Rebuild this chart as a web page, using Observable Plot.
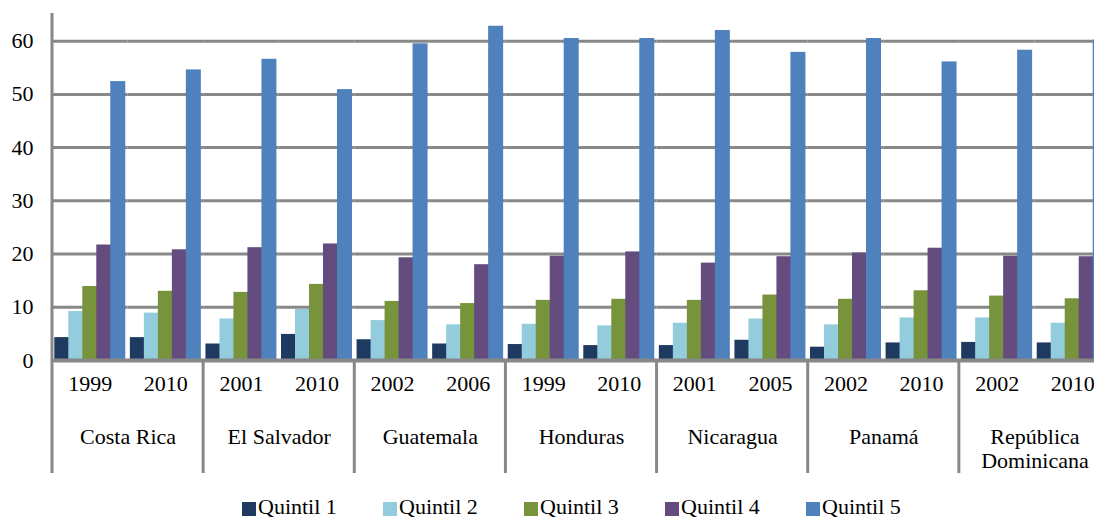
<!DOCTYPE html>
<html><head><meta charset="utf-8">
<script src="https://cdn.jsdelivr.net/npm/d3@7"></script>
<script src="https://cdn.jsdelivr.net/npm/@observablehq/plot@0.6"></script>
<style>
html,body{margin:0;padding:0;background:#fff;overflow:hidden;width:1094px;height:521px}
#chart{position:relative;width:1094px;height:521px;overflow:hidden}
#chart svg{overflow:hidden}
#chart svg text{font-family:"Liberation Serif"}
.legend{position:absolute;left:242px;top:494px;display:flex;font-family:"Liberation Serif";font-size:22px;line-height:26px;color:#000}
.legend .item{width:141px;display:flex;align-items:center;white-space:nowrap}
.legend .sw{width:14px;height:14px;margin-right:2px;position:relative;top:2px}
</style></head><body><div id="chart"></div>
<script>
// ---- data ----
const countries = ["Costa Rica", "El Salvador", "Guatemala", "Honduras", "Nicaragua", "Panamá", "República\nDominicana"];
const yearsByCountry = [["1999", "2010"], ["2001", "2010"], ["2002", "2006"], ["1999", "2010"], ["2001", "2005"], ["2002", "2010"], ["2002", "2010"]];
const quintiles = ["Quintil 1", "Quintil 2", "Quintil 3", "Quintil 4", "Quintil 5"];
const q1 = [4.3, 4.3, 3.1, 4.9, 3.9, 3.1, 3.0, 2.8, 2.8, 3.8, 2.5, 3.3, 3.4, 3.3];
const q2 = [9.2, 8.9, 7.8, 9.6, 7.5, 6.7, 6.8, 6.5, 7.0, 7.8, 6.7, 8.0, 8.0, 7.0];
const q3 = [13.9, 13.0, 12.8, 14.3, 11.1, 10.7, 11.3, 11.5, 11.3, 12.3, 11.5, 13.1, 12.1, 11.6];
const q4 = [21.7, 20.8, 21.2, 21.9, 19.3, 18.0, 19.6, 20.4, 18.3, 19.5, 20.2, 21.1, 19.6, 19.5];
const q5 = [52.4, 54.6, 56.6, 50.9, 59.5, 62.8, 60.5, 60.5, 62.0, 57.9, 60.5, 56.1, 58.3, 60.2];
const yTicks = [0, 10, 20, 30, 40, 50, 60];
const colors = ["#1f3a60", "#93cddd", "#77933c", "#644d7e", "#4f81bd"];

// ---- build tables ----
const groups = [];
countries.forEach((c, ci) => yearsByCountry[ci].forEach((yr, yi) =>
  groups.push({key: ci + "-" + yi, country: c, year: yr, first: yi === 0, ci})));
const series = [q1, q2, q3, q4, q5];
const data = [];
groups.forEach((g, gi) => quintiles.forEach((q, qi) => data.push({key: g.key, q, v: series[qi][gi]})));

const font = "Liberation Serif";
const gray = "#888888";

const plot = Plot.plot({
  width: 1094, height: 490,
  marginLeft: 52, marginRight: -16, marginTop: 13, marginBottom: 130,
  style: {fontFamily: font, fontSize: "22px", color: "#000", background: "transparent", overflow: "hidden"},
  fx: {domain: groups.map(g => g.key), padding: 0, axis: null, round: false},
  x: {domain: quintiles, paddingInner: 0, paddingOuter: 0.2, axis: null, round: false},
  y: {domain: [0, 65.2]},
  color: {domain: quintiles, range: colors},
  marks: [
    Plot.gridY(yTicks, {stroke: gray, strokeOpacity: 1, strokeWidth: 3}),
    Plot.barY(data, {fx: "key", x: "q", y: "v", fill: "q", insetLeft: -0.5, insetRight: -0.5}),
    Plot.ruleY([0], {stroke: gray, strokeWidth: 4}),
    Plot.axisY(yTicks, {tickSize: 0, tickPadding: 19, fontSize: 22, fontFamily: font, label: null, tickFormat: d => String(d)}),
    Plot.text(groups, {fx: "key", text: "year", frameAnchor: "bottom", dy: 30, fontSize: 22, fontFamily: font}),
    Plot.text(groups.filter(g => g.first), {fx: "key", text: "country", frameAnchor: "bottom-right",
      textAnchor: "middle", lineAnchor: "top", lineHeight: 1.1, dy: 66, fontSize: 22, fontFamily: font})
  ]
});
document.getElementById("chart").appendChild(plot);

// ---- separators (category table lines) using the plot's own scales ----
const fxS = plot.scale("fx"), yS = plot.scale("y");
const svg = d3.select(plot);
const y0 = yS.apply(0), yTop = yS.apply(65.2), yBottom = y0 + 113;
const seps = groups.filter(g => g.first).map(g => fxS.apply(g.key));
seps.push(fxS.apply(groups[groups.length - 1].key) + fxS.bandwidth);
seps.forEach((x, i) => {
  svg.append("line")
    .attr("x1", x).attr("x2", x)
    .attr("y1", i === 0 ? yTop : y0).attr("y2", yBottom)
    .attr("stroke", gray).attr("stroke-width", 3);
});

// ---- legend ----
const legend = document.createElement("div");
legend.className = "legend";
quintiles.forEach((q, i) => {
  const it = document.createElement("div"); it.className = "item";
  const sw = document.createElement("span"); sw.className = "sw"; sw.style.background = colors[i];
  const tx = document.createElement("span"); tx.textContent = q;
  it.appendChild(sw); it.appendChild(tx); legend.appendChild(it);
});
document.getElementById("chart").appendChild(legend);
</script></body></html>
